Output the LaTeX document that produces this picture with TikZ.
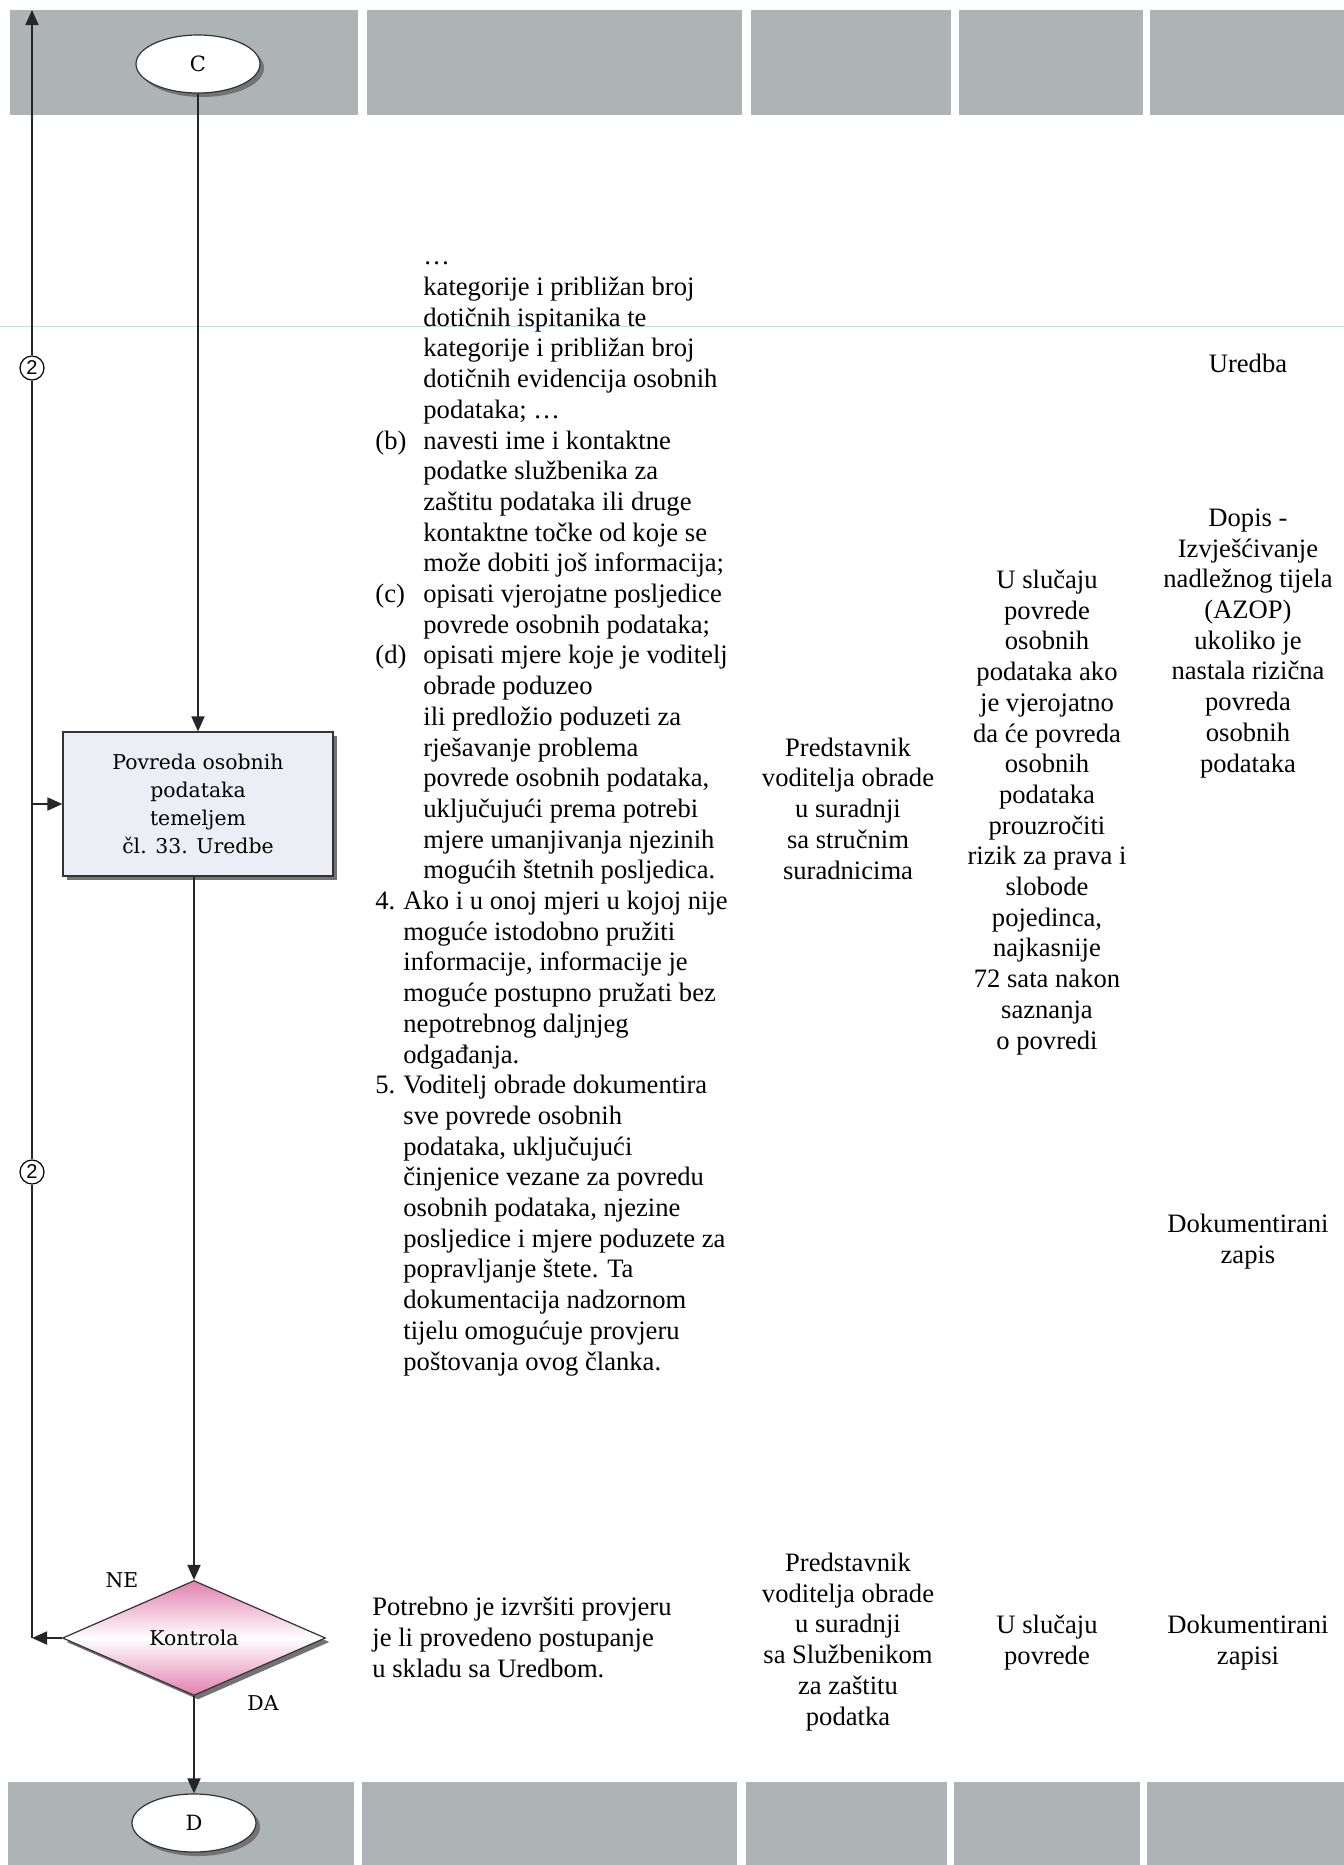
\documentclass[tikz,border=0pt]{standalone}
\usepackage{fontspec}
\setmainfont{Liberation Serif}
\newfontfamily\boxfont{DejaVu Serif}
\newfontfamily\markfont{Liberation Sans}
\usetikzlibrary{shapes.geometric,arrows.meta,shadows,calc}

\definecolor{bandgray}{RGB}{174,179,181}
\definecolor{procfill}{RGB}{236,238,245}
\definecolor{decpink}{RGB}{226,128,174}
\definecolor{scanline}{RGB}{175,228,238}

\newcommand{\sublab}[1]{\makebox[24pt][l]{#1}}
\newcommand{\numlab}[1]{\makebox[14pt][l]{#1}}
\newcommand{\subind}{\hspace*{24pt}}
\newcommand{\numind}{\hspace*{14pt}}

\tikzset{
  flow/.style={line width=0.9pt,draw=black!85},
  flowarrow/.style={flow,-{Triangle[length=7.5pt,width=6.5pt]}},
  shade/.style={drop shadow={shadow xshift=2pt,shadow yshift=-2pt,fill=black!55,opacity=1}},
  terminal/.style={ellipse,draw=black!80,line width=0.6pt,fill=white,minimum width=62pt,minimum height=29pt,inner sep=0pt,font=\boxfont\fontsize{10.5}{12}\selectfont,shade},
  process/.style={rectangle,draw=black!80,line width=0.6pt,fill=procfill,minimum width=135pt,minimum height=72pt,inner sep=0pt,align=center,font=\boxfont\fontsize{10.2}{14}\selectfont,shade},
  decision/.style={diamond,draw=black!80,line width=0.6pt,minimum width=131.5pt,minimum height=57.5pt,inner sep=0pt,top color=decpink,bottom color=decpink,middle color=white,font=\boxfont\fontsize{10.2}{12}\selectfont,shade},
  connector/.style={circle,draw,line width=0.6pt,fill=white,minimum size=12pt,inner sep=0pt,font=\markfont\fontsize{10}{10}\selectfont},
  flowlabel/.style={inner sep=0pt,font=\boxfont\fontsize{10.2}{12}\selectfont},
  lefttext/.style={inner sep=0pt,align=left,anchor=base west,font=\fontsize{13.3}{15.35}\selectfont},
  colltext/.style={inner sep=0pt,align=center,anchor=base,font=\fontsize{13.3}{15.35}\selectfont}
}

\begin{document}
\begin{tikzpicture}[x=0.5pt,y=-0.5pt]
\useasboundingbox (0,0) rectangle (1344,1865);
\fill[white] (0,0) rectangle (1344,1865);
% header and footer bands
\foreach \a/\b in {10/358,367/742,751/951,959/1143,1150/1344} {
  \fill[bandgray] (\a,10) rectangle (\b,115);
}
\foreach \a/\b in {8/354,362/737,746/947,954/1140,1147/1344} {
  \fill[bandgray] (\a,1782) rectangle (\b,1865);
}
\draw[scanline,line width=0.5pt] (0,326) -- (1344,326);
% flow chart
\node[terminal] (C) at (198,64) {C};
\node[process] (P) at (198,804) {Povreda osobnih\\podataka\\temeljem\\čl. 33. Uredbe};
\node[decision] (K) at (194,1638) {Kontrola};
\node[terminal] (D) at (194,1823) {D};
\node[connector] (M1) at (32,368) {2};
\node[connector] (M2) at (32,1172) {2};
\coordinate (Ltop) at (32,10);
\coordinate (Lin) at (32,804);
\coordinate (Lbot) at (32,1638);
\node[flowlabel] (NE) at (122,1580) {NE};
\node[flowlabel] (DA) at (263,1703) {DA};
\draw[flowarrow] (C) -- (P);
\draw[flowarrow] (P.south -| K.north) -- (K.north);
\draw[flowarrow] (K) -- (D);
\draw[flowarrow] (K.west) -- (Lbot);
\draw[flow] (Lbot) -- (M2);
\draw[flow] (M2) -- (M1);
\draw[flowarrow] (M1) -- (Ltop);
\draw[flowarrow] (Lin) -- (P.west);
% column texts (placed at the baseline of their last line)
\node[lefttext] (T2) at (375,1370) {\subind …\\
  \subind kategorije i približan broj\\
  \subind dotičnih ispitanika te\\
  \subind kategorije i približan broj\\
  \subind dotičnih evidencija osobnih\\
  \subind podataka; …\\
  \sublab{(b)}navesti ime i kontaktne\\
  \subind podatke službenika za\\
  \subind zaštitu podataka ili druge\\
  \subind kontaktne točke od koje se\\
  \subind može dobiti još informacija;\\
  \sublab{(c)}opisati vjerojatne posljedice\\
  \subind povrede osobnih podataka;\\
  \sublab{(d)}opisati mjere koje je voditelj\\
  \subind obrade poduzeo\\
  \subind ili predložio poduzeti za\\
  \subind rješavanje problema\\
  \subind povrede osobnih podataka,\\
  \subind uključujući prema potrebi\\
  \subind mjere umanjivanja njezinih\\
  \subind mogućih štetnih posljedica.\\
  \numlab{4.}Ako i u onoj mjeri u kojoj nije\\
  \numind moguće istodobno pružiti\\
  \numind informacije, informacije je\\
  \numind moguće postupno pružati bez\\
  \numind nepotrebnog daljnjeg\\
  \numind odgađanja.\\
  \numlab{5.}Voditelj obrade dokumentira\\
  \numind sve povrede osobnih\\
  \numind podataka, uključujući\\
  \numind činjenice vezane za povredu\\
  \numind osobnih podataka, njezine\\
  \numind posljedice i mjere poduzete za\\
  \numind popravljanje štete. Ta\\
  \numind dokumentacija nadzornom\\
  \numind tijelu omogućuje provjeru\\
  \numind poštovanja ovog članka.};
\node[colltext] (T3) at (848,879) {Predstavnik\\voditelja obrade\\u suradnji\\sa stručnim\\suradnicima};
\node[colltext] (T4) at (1047,1049) {U slučaju\\povrede\\osobnih\\podataka ako\\je vjerojatno\\da će povreda\\osobnih\\podataka\\prouzročiti\\rizik za prava i\\slobode\\pojedinca,\\najkasnije\\72 sata nakon\\saznanja\\o povredi};
\node[colltext] (T5a) at (1248,372) {Uredba};
\node[colltext] (T5b) at (1248,772) {Dopis -\\Izvješćivanje\\nadležnog tijela\\(AZOP)\\ukoliko je\\nastala rizična\\povreda\\osobnih\\podataka};
\node[colltext] (T5c) at (1248,1263) {Dokumentirani\\zapis};
% control row
\node[lefttext] (B2) at (372,1677) {Potrebno je izvršiti provjeru\\je li provedeno postupanje\\u skladu sa Uredbom.};
\node[colltext] (B3) at (848,1725) {Predstavnik\\voditelja obrade\\u suradnji\\sa Službenikom\\za zaštitu\\podatka};
\node[colltext] (B4) at (1047,1664) {U slučaju\\povrede};
\node[colltext] (B5) at (1248,1664) {Dokumentirani\\zapisi};
\end{tikzpicture}
\end{document}
